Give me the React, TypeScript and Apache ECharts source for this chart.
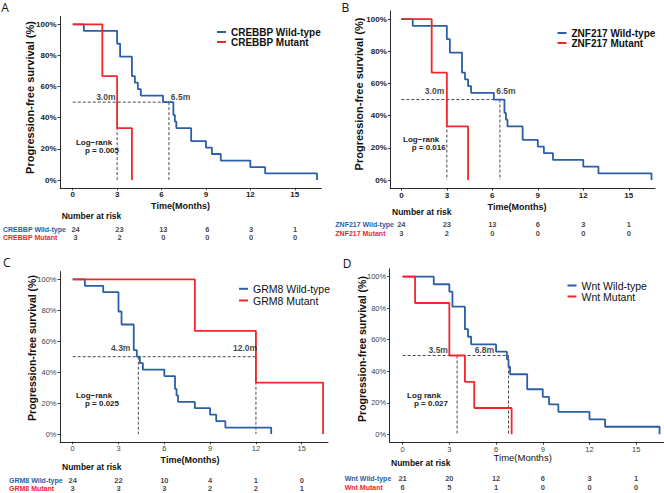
import React, { useEffect, useRef } from "react";
import * as echarts from "echarts";

// ---------- data ----------
const timeTicks = [0, 3, 6, 9, 12, 15];
const survTicks = [0, 20, 40, 60, 80, 100];
const riskTimes = [0, 3, 6, 9, 12, 15];

// A: CREBBP
const crebbpWildTime = [0, 0.75, 3.0, 3.2, 4.0, 4.2, 4.4, 4.6, 6.1, 6.8, 6.9, 7.0, 8.0, 9.0, 9.4, 10.0, 12.0, 13.0, 16.5];
const crebbpWildSurv = [100, 95.8, 87.5, 79.2, 66.7, 62.5, 58.3, 54.2, 50.0, 41.7, 37.5, 33.3, 25.0, 20.8, 16.7, 12.5, 8.3, 4.2, 0];
const crebbpMutTime = [0, 2.0, 3.0, 4.0];
const crebbpMutSurv = [100, 66.7, 33.3, 0];
const crebbpWildRisk = [24, 23, 13, 6, 3, 1];
const crebbpMutRisk = [3, 2, 0, 0, 0, 0];
const crebbpMedians = [3.0, 6.5];

// B: ZNF217
const znf217WildTime = [0, 0.75, 3.0, 3.2, 4.0, 4.2, 4.4, 4.6, 6.1, 6.8, 6.9, 7.0, 8.0, 9.0, 9.4, 10.0, 12.0, 13.0, 16.5];
const znf217WildSurv = [100, 95.8, 87.5, 79.2, 66.7, 62.5, 58.3, 54.2, 50.0, 41.7, 37.5, 33.3, 25.0, 20.8, 16.7, 12.5, 8.3, 4.2, 0];
const znf217MutTime = [0, 2.0, 3.0, 4.4];
const znf217MutSurv = [100, 66.7, 33.3, 0];
const znf217WildRisk = [24, 23, 13, 6, 3, 1];
const znf217MutRisk = [3, 2, 0, 0, 0, 0];
const znf217Medians = [3.0, 6.5];

// C: GRM8
const grm8WildTime = [0, 0.8, 2.0, 3.0, 3.2, 4.0, 4.2, 4.4, 4.6, 6.0, 6.7, 6.8, 6.9, 8.0, 9.0, 9.4, 10.0, 13.0];
const grm8WildSurv = [100, 95.8, 91.7, 79.2, 70.8, 54.2, 50.0, 45.8, 41.7, 37.5, 29.2, 25.0, 20.8, 16.7, 12.5, 8.3, 4.2, 0];
const grm8MutTime = [0, 8.0, 12.0, 16.4];
const grm8MutSurv = [100, 66.7, 33.3, 0];
const grm8WildRisk = [24, 22, 10, 4, 1, 0];
const grm8MutRisk = [3, 3, 3, 2, 2, 1];
const grm8Medians = [4.3, 12.0];

// D: Wnt
const wntWildTime = [0, 2.0, 3.0, 3.2, 4.0, 4.2, 4.4, 6.0, 6.7, 6.8, 6.9, 8.0, 9.0, 9.4, 10.0, 12.0, 13.0, 16.5];
const wntWildSurv = [100, 95.2, 90.5, 81.0, 66.7, 61.9, 57.1, 52.4, 47.6, 42.9, 38.1, 28.6, 23.8, 19.0, 14.3, 9.5, 4.8, 0];
const wntMutTime = [0, 0.8, 3.0, 4.0, 4.6, 7.0];
const wntMutSurv = [100, 83.3, 50.0, 33.3, 16.7, 0];
const wntWildRisk = [21, 20, 12, 6, 3, 1];
const wntMutRisk = [6, 5, 1, 0, 0, 0];
const wntMedians = [3.5, 6.8];

const panelLetters = ["A", "B", "C", "D"];
const genes = ["CREBBP", "ZNF217", "GRM8", "Wnt"];
const pValues = ["0.005", "0.016", "0.025", "0.027"];
const logRankLabels = ["Log\u2212rank", "Log\u2212rank", "Log\u2212rank", "Log rank"];

const panels = [
  { wt: crebbpWildTime, ws: crebbpWildSurv, mt: crebbpMutTime, ms: crebbpMutSurv, wr: crebbpWildRisk, mr: crebbpMutRisk, med: crebbpMedians },
  { wt: znf217WildTime, ws: znf217WildSurv, mt: znf217MutTime, ms: znf217MutSurv, wr: znf217WildRisk, mr: znf217MutRisk, med: znf217Medians },
  { wt: grm8WildTime, ws: grm8WildSurv, mt: grm8MutTime, ms: grm8MutSurv, wr: grm8WildRisk, mr: grm8MutRisk, med: grm8Medians },
  { wt: wntWildTime, ws: wntWildSurv, mt: wntMutTime, ms: wntMutSurv, wr: wntWildRisk, mr: wntMutRisk, med: wntMedians },
];

// ---------- layout / style ----------
const BLUE = "#2B5EA7";
const RED = "#F2262B";
const FONT = '"Liberation Sans", Arial, Helvetica, sans-serif';
const RISK_LABEL_SIZE = 7;
const RISK_NUM_SIZE = 7.5;

const layouts = [
  {
    plot: { left: 60, top: 16.5, width: 261.4, height: 171.3 }, xMin: -0.86, xMax: 16.8,
    risk: { left: 60, top: 225, width: 261.4, height: 17 }, riskMargin: 60,
    tickBold: true, tickSize: 8, xLabelMargin: 3,
    yTitle: [30, 97.5, 11, "bold"], xTitle: [180.5, 206, 9, "bold"],
    legend: { left: 217, top: 27, gap: 0, size: 10, weight: "bold" },
    nar: [61.7, 215.5], logrank: [[94, 142.5], [102, 150.5]],
    medOff: [-11.3, 11.6], medDist: 0, letter: [5, 7.5],
  },
  {
    plot: { left: 390.3, top: 11, width: 264.7, height: 177.1 }, xMin: -0.73, xMax: 16.73,
    risk: { left: 390.3, top: 220, width: 264.7, height: 18 }, riskMargin: 55,
    tickBold: true, tickSize: 8, xLabelMargin: 3.4,
    yTitle: [358.7, 94, 11, "bold"], xTitle: [517, 207.3, 9, "bold"],
    legend: { left: 557.5, top: 28, gap: 0, size: 10, weight: "bold" },
    nar: [392, 212.3], logrank: [[421.2, 139.5], [428.7, 147.5]],
    medOff: [-12.3, 6], medDist: 3.5, letter: [345.3, 7.5],
  },
  {
    plot: { left: 60, top: 271.6, width: 268, height: 170.2 }, xMin: -0.83, xMax: 16.72,
    risk: { left: 60, top: 476.4, width: 268, height: 17.2 }, riskMargin: 51,
    tickBold: false, tickSize: 7.5, xLabelMargin: 2.3,
    yTitle: [32, 348, 10.5, "bold"], xTitle: [190, 460, 9, "bold"],
    legend: { left: 239, top: 283.3, gap: 0.7, size: 10.5, weight: "normal" },
    nar: [62, 466.7], logrank: [[94, 395.5], [102, 403.5]],
    medOff: [-17.6, -10.9], medDist: 4, letter: [6.7, 262.5],
  },
  {
    plot: { left: 389.7, top: 268.8, width: 273.9, height: 173.4 }, xMin: -0.83, xMax: 16.76,
    risk: { left: 389.7, top: 474.8, width: 273.9, height: 16.6 }, riskMargin: 45,
    tickBold: false, tickSize: 7.5, xLabelMargin: 3,
    yTitle: [362, 349, 10.5, "bold"], xTitle: [522.7, 457.7, 9.5, "normal"],
    legend: { left: 567.5, top: 280, gap: 0, size: 10.5, weight: "normal" },
    nar: [391, 463.3], logrank: [[424, 395.5], [431, 403.5]],
    medOff: [-18.9, -24.1], medDist: 0.5, letter: [347, 263.8],
  },
];

function zip(a: number[], b: number[]) {
  return a.map((v, i) => [v, b[i]]);
}

function buildOption() {
  const grid: any[] = [];
  const xAxis: any[] = [];
  const yAxis: any[] = [];
  const series: any[] = [];
  const legend: any[] = [];
  const graphic: any[] = [];

  layouts.forEach((l) => grid.push({ ...l.plot, containLabel: false }));
  layouts.forEach((l) => grid.push({ ...l.risk, containLabel: false }));

  panels.forEach((p, i) => {
    const l = layouts[i];
    const wildName = `${genes[i]} Wild-type`;
    const mutName = `${genes[i]} Mutant`;
    const tickColor = l.tickBold ? "#222" : "#444";
    const tickWeight = l.tickBold ? "bold" : "normal";

    xAxis[i] = {
      gridIndex: i, type: "value", min: l.xMin, max: l.xMax,
      axisLine: { show: true, onZero: false, lineStyle: { color: "#111", width: 0.9 } },
      axisTick: { show: true, customValues: timeTicks, length: 2.5, lineStyle: { color: "#111", width: 0.8 } },
      axisLabel: { show: true, customValues: timeTicks, fontSize: l.tickSize, fontWeight: tickWeight, color: tickColor, fontFamily: FONT, margin: l.xLabelMargin },
      splitLine: { show: false },
    };
    yAxis[i] = {
      gridIndex: i, type: "value", min: -5, max: 105,
      axisLine: { show: true, onZero: false, lineStyle: { color: "#111", width: 0.9 } },
      axisTick: { show: true, customValues: survTicks, length: 2.5, lineStyle: { color: "#111", width: 0.8 } },
      axisLabel: { show: true, customValues: survTicks, formatter: "{value}%", fontSize: l.tickSize, fontWeight: tickWeight, color: tickColor, fontFamily: FONT, margin: 3.5 },
      splitLine: { show: false },
    };
    xAxis[4 + i] = { gridIndex: 4 + i, type: "value", min: l.xMin, max: l.xMax, show: false };
    yAxis[4 + i] = {
      gridIndex: 4 + i, type: "category", data: [wildName, mutName], inverse: true,
      axisLine: { show: false }, axisTick: { show: false }, splitLine: { show: false },
      axisLabel: {
        show: true, interval: 0, hideOverlap: false, margin: l.riskMargin, align: "left",
        fontFamily: FONT, fontSize: RISK_LABEL_SIZE, fontWeight: "bold",
        formatter: (v: string, idx: number) => `{c${idx}|${v}}`,
        rich: {
          c0: { color: BLUE, fontSize: RISK_LABEL_SIZE, fontWeight: "bold", fontFamily: FONT },
          c1: { color: RED, fontSize: RISK_LABEL_SIZE, fontWeight: "bold", fontFamily: FONT },
        },
      },
    };

    series.push({
      type: "line", name: wildName, xAxisIndex: i, yAxisIndex: i, step: "end", symbol: "none",
      data: zip(p.wt, p.ws), color: BLUE, lineStyle: { color: BLUE, width: 1.8 }, z: 4, silent: true,
    });
    series.push({
      type: "line", name: mutName, xAxisIndex: i, yAxisIndex: i, step: "end", symbol: "none",
      data: zip(p.mt, p.ms), color: RED, lineStyle: { color: RED, width: 1.8 }, z: 5, silent: true,
    });

    const dash = { color: "#333", width: 0.9, type: [3, 2] };
    series.push({
      type: "line", xAxisIndex: i, yAxisIndex: i, symbol: "none", silent: true, z: 3,
      data: [[0, 50], [Math.max(...p.med), 50]], lineStyle: dash,
    });
    p.med.forEach((m) => {
      series.push({
        type: "line", xAxisIndex: i, yAxisIndex: i, symbol: "none", silent: true, z: 3,
        data: [[m, 50], [m, 0]], lineStyle: dash,
      });
    });
    series.push({
      type: "scatter", xAxisIndex: i, yAxisIndex: i, symbolSize: 1, silent: true, z: 6,
      itemStyle: { color: "rgba(0,0,0,0)" },
      data: p.med.map((m, k) => ({ value: [m, 50], label: { offset: [l.medOff[k], 0] } })),
      label: {
        show: true, position: "top", distance: l.medDist, fontSize: 8.5, fontWeight: "bold",
        color: "#111", textBorderWidth: 0, fontFamily: FONT,
        formatter: (pp: any) => `${pp.value[0].toFixed(1)}m`,
      },
    });

    [
      { name: wildName, vals: p.wr },
      { name: mutName, vals: p.mr },
    ].forEach((row) => {
      series.push({
        type: "scatter", xAxisIndex: 4 + i, yAxisIndex: 4 + i, symbolSize: 1, silent: true,
        itemStyle: { color: "rgba(0,0,0,0)" },
        data: riskTimes.map((t, k) => [t, row.name, row.vals[k]]),
        label: {
          show: true, position: "inside", fontSize: RISK_NUM_SIZE, fontWeight: "bold", color: "#111",
          textBorderWidth: 0, textBorderColor: "transparent", fontFamily: FONT,
          formatter: (pp: any) => String(pp.value[2]),
        },
      });
    });

    legend.push({
      data: [wildName, mutName], orient: "vertical", left: l.legend.left, top: l.legend.top,
      padding: 0, itemGap: l.legend.gap, icon: "rect", itemWidth: 9, itemHeight: 2,
      selectedMode: false,
      textStyle: { fontSize: l.legend.size, fontWeight: l.legend.weight, color: "#111", fontFamily: FONT, lineHeight: 10 },
    });

    graphic.push({
      type: "text", x: l.letter[0], y: l.letter[1],
      style: { text: panelLetters[i], fontSize: 12, fontFamily: '"Open Sans", "Noto Sans", sans-serif', fill: "#111", align: "center", verticalAlign: "middle" },
    });
    graphic.push({
      type: "text", x: l.yTitle[0], y: l.yTitle[1], rotation: Math.PI / 2,
      style: { text: "Progression-free survival (%)", fontSize: l.yTitle[2], fontWeight: l.yTitle[3], fontFamily: FONT, fill: "#111", align: "center", verticalAlign: "middle" },
    });
    graphic.push({
      type: "text", x: l.xTitle[0], y: l.xTitle[1],
      style: { text: "Time(Months)", fontSize: l.xTitle[2], fontWeight: l.xTitle[3], fontFamily: FONT, fill: "#111", align: "center", verticalAlign: "middle" },
    });
    graphic.push({
      type: "text", x: l.nar[0], y: l.nar[1],
      style: { text: "Number at risk", fontSize: 8.5, fontWeight: "bold", fontFamily: FONT, fill: "#111", align: "left", verticalAlign: "middle" },
    });
    graphic.push({
      type: "text", x: l.logrank[0][0], y: l.logrank[0][1],
      style: { text: logRankLabels[i], fontSize: 8, fontWeight: "bold", fontFamily: FONT, fill: "#222", align: "center", verticalAlign: "middle" },
    });
    graphic.push({
      type: "text", x: l.logrank[1][0], y: l.logrank[1][1],
      style: { text: `p = ${pValues[i]}`, fontSize: 8, fontWeight: "bold", fontFamily: FONT, fill: "#222", align: "center", verticalAlign: "middle" },
    });
  });

  return {
    animation: false,
    backgroundColor: "#fff",
    grid, xAxis, yAxis, series, legend, graphic,
  };
}

export default function App() {
  const ref = useRef<HTMLDivElement>(null);
  useEffect(() => {
    if (!ref.current) return;
    const chart = echarts.init(ref.current, undefined, { renderer: "svg" });
    chart.setOption(buildOption() as any);
    return () => chart.dispose();
  }, []);
  return (
    <div
      ref={ref}
      style={{ position: "absolute", left: 0, top: 0, width: 664, height: 493, background: "#fff" }}
    />
  );
}
